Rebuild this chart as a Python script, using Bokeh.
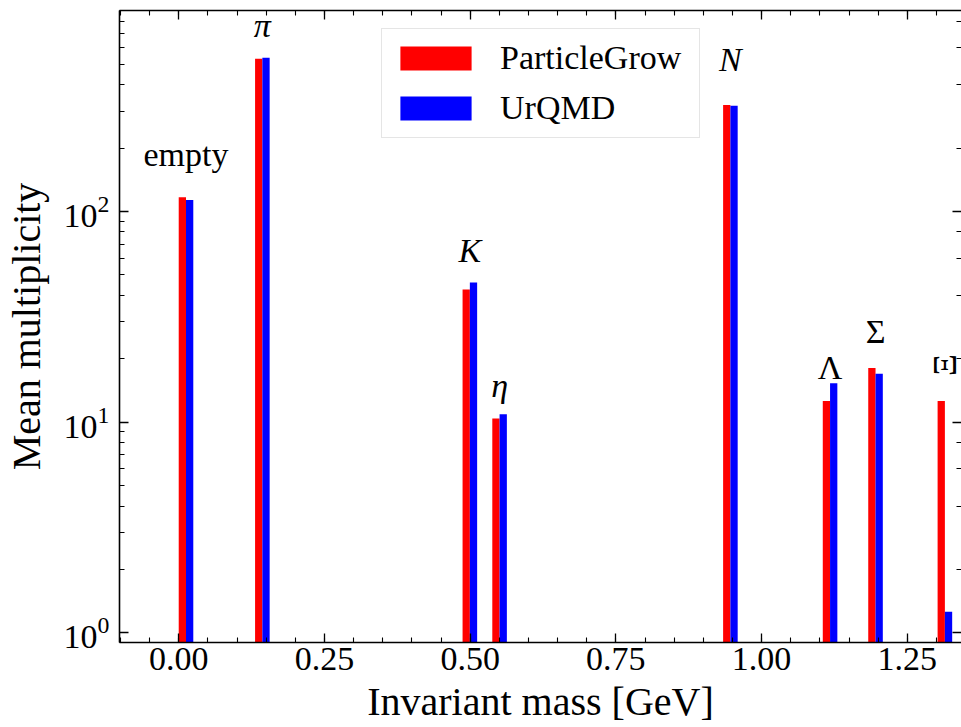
import math
import numpy as np
from bokeh.plotting import figure
from bokeh.models import (ColumnDataSource, Range1d, LinearAxis, LogAxis, SingleIntervalTicker,
                          LogTicker, Legend, LegendItem, CustomJSTickFormatter)
from bokeh.embed import file_html
from bokeh.resources import INLINE
from bokeh.core.properties import value

# ---- data ----
labels = ["empty", "π", "K", "η", "N", "Λ", "Σ", "Ξ"]
mass = [0.0, 0.131, 0.487, 0.538, 0.934, 1.105, 1.183, 1.302]   # GeV, left edge of bar pair
particlegrow = [117.0, 531.0, 42.7, 10.4, 320.0, 12.6, 18.1, 12.6]
urqmd = [113.5, 537.0, 46.0, 10.9, 318.0, 15.3, 17.0, 1.26]
italic = [False, True, True, True, True, False, False, False]
rotated = [False, False, False, False, False, False, False, True]

# ---- styling ----
BAR_W = 0.0125
label_gap_px = [43, 32, 32, 29, 46, 16, 36, 36]
FONT = "Liberation Serif"

m = np.array(mass)
src = ColumnDataSource(dict(
    xr=m + BAR_W / 2, xb=m + 1.5 * BAR_W,
    pg=particlegrow, uq=urqmd,
))

p = figure(width=961, height=727, y_axis_type="log",
           x_range=Range1d(-0.1016, 1.343), y_range=Range1d(0.9, 900),
           output_backend="svg", toolbar_location=None,
           min_border_left=118, min_border_right=0, min_border_top=10, min_border_bottom=85)
p.outline_line_color = None
p.xgrid.visible = False
p.ygrid.visible = False
p.background_fill_color = "white"

r1 = p.vbar(x="xr", top="pg", bottom=1e-3, width=BAR_W, source=src,
            fill_color="#ff0000", line_color=None)
r2 = p.vbar(x="xb", top="uq", bottom=1e-3, width=BAR_W, source=src,
            fill_color="#0000ff", line_color=None)

xt = SingleIntervalTicker(interval=0.25, num_minor_ticks=5)
p.xaxis[0].ticker = xt
p.xaxis[0].formatter = CustomJSTickFormatter(code="return tick.toFixed(2)")


def style_axis(ax, labels_on=True, line=True):
    ax.major_tick_in = 9
    ax.major_tick_out = 0
    ax.minor_tick_in = 5
    ax.minor_tick_out = 0
    ax.major_tick_line_color = "black"
    ax.minor_tick_line_color = "black"
    ax.major_tick_line_width = 1.3
    ax.minor_tick_line_width = 1.1
    ax.axis_line_width = 1.6
    ax.axis_line_color = "black" if line else None
    ax.major_label_text_font = FONT
    ax.major_label_text_font_size = "34px"
    ax.major_label_text_color = "black"
    ax.axis_label_text_font = FONT
    ax.axis_label_text_font_size = "40px"
    ax.axis_label_text_font_style = "normal"
    ax.axis_label_text_color = "black"
    if not labels_on:
        ax.formatter = CustomJSTickFormatter(code="return ''")
        ax.major_label_standoff = 0


style_axis(p.xaxis[0])
style_axis(p.yaxis[0])
p.xaxis[0].axis_label = "Invariant mass [GeV]"
p.yaxis[0].axis_label = "Mean multiplicity"
p.xaxis[0].major_label_standoff = 5
p.xaxis[0].axis_label_standoff = 6
p.yaxis[0].major_label_standoff = 10
p.yaxis[0].axis_label_standoff = 12

top_ax = LinearAxis(ticker=xt)
style_axis(top_ax, labels_on=False)
p.add_layout(top_ax, "above")
right_ax = LogAxis(ticker=LogTicker())
style_axis(right_ax, labels_on=False, line=False)
p.add_layout(right_ax, "right")

# ---- annotations ----
tops = [max(a, b) for a, b in zip(particlegrow, urqmd)]
for it_flag, rot_flag, style in [(True, False, "italic"), (False, False, "normal")]:
    idx = [i for i in range(len(labels)) if italic[i] == it_flag and rotated[i] == rot_flag]
    s = ColumnDataSource(dict(x=[mass[i] + BAR_W for i in idx], y=[tops[i] for i in idx],
                              t=[labels[i] for i in idx], off=[-label_gap_px[i] for i in idx]))
    p.text(x="x", y="y", text="t", y_offset="off", source=s, text_align="center",
           text_baseline="alphabetic", text_font=value(FONT), text_font_size="34px",
           text_font_style=style, text_color="black")
idx = [i for i in range(len(labels)) if rotated[i]]
s = ColumnDataSource(dict(x=[mass[i] + BAR_W for i in idx], y=[tops[i] for i in idx],
                          t=[labels[i] for i in idx], off=[-label_gap_px[i] for i in idx]))
p.text(x="x", y="y", text="t", y_offset="off", source=s, angle=math.pi / 2,
       text_align="center", text_baseline="middle", text_font=value(FONT),
       text_font_size="34px", text_color="black")

legend = Legend(items=[LegendItem(label="ParticleGrow", renderers=[r1]),
                       LegendItem(label="UrQMD", renderers=[r2])],
                location=(262, 504), glyph_width=89, glyph_height=30, label_standoff=20,
                padding=9, spacing=10, margin=0, label_width=190, label_height=40,
                label_text_font=FONT, label_text_font_size="34px", label_text_color="black",
                border_line_color="#cccccc", border_line_width=1.5,
                background_fill_color="white", background_fill_alpha=0.9)
p.add_layout(legend)

open("out.html", "w").write(file_html(p, INLINE))
